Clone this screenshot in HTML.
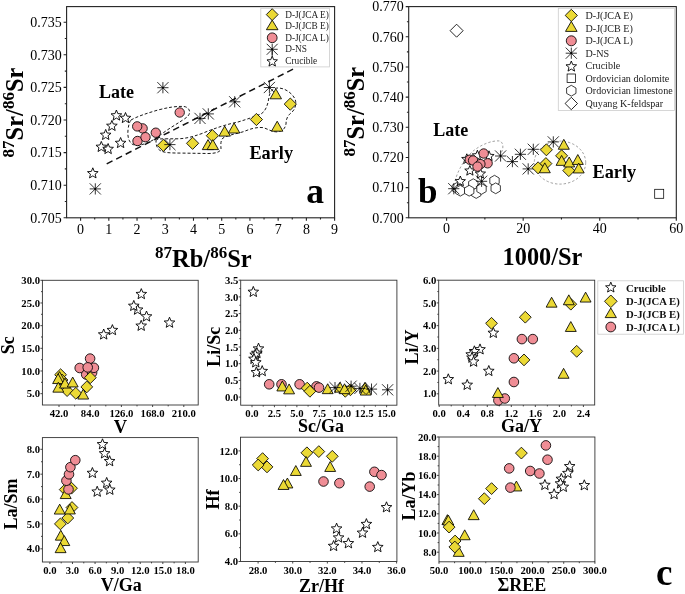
<!DOCTYPE html>
<html><head><meta charset="utf-8"><style>
html,body{margin:0;padding:0;background:#fff;}
svg{display:block;font-family:"Liberation Serif",serif;will-change:transform;}
</style></head><body>
<svg width="685" height="594" viewBox="0 0 685 594">
<rect width="685" height="594" fill="#fff"/>
<rect x="66.6" y="6.6" width="268" height="211.2" fill="none" stroke="#222" stroke-width="1.1"/>
<path d="M80.6 217.8v3M108.82 217.8v3M137.04 217.8v3M165.27 217.8v3M193.49 217.8v3M221.71 217.8v3M249.93 217.8v3M278.16 217.8v3M306.38 217.8v3M334.6 217.8v3M94.71 217.8v1.8M122.93 217.8v1.8M151.16 217.8v1.8M179.38 217.8v1.8M207.6 217.8v1.8M235.82 217.8v1.8M264.04 217.8v1.8M292.27 217.8v1.8M320.49 217.8v1.8M66.6 217.8h-3M66.6 185.2h-3M66.6 152.6h-3M66.6 120h-3M66.6 87.4h-3M66.6 54.8h-3M66.6 22.2h-3M66.6 201.5h-1.8M66.6 168.9h-1.8M66.6 136.3h-1.8M66.6 103.7h-1.8M66.6 71.1h-1.8M66.6 38.5h-1.8" stroke="#222" stroke-width="1.1" fill="none"/>
<text x="80.6" y="233.5" font-size="14" font-weight="normal" text-anchor="middle" fill="#000" >0</text>
<text x="108.82" y="233.5" font-size="14" font-weight="normal" text-anchor="middle" fill="#000" >1</text>
<text x="137.04" y="233.5" font-size="14" font-weight="normal" text-anchor="middle" fill="#000" >2</text>
<text x="165.27" y="233.5" font-size="14" font-weight="normal" text-anchor="middle" fill="#000" >3</text>
<text x="193.49" y="233.5" font-size="14" font-weight="normal" text-anchor="middle" fill="#000" >4</text>
<text x="221.71" y="233.5" font-size="14" font-weight="normal" text-anchor="middle" fill="#000" >5</text>
<text x="249.93" y="233.5" font-size="14" font-weight="normal" text-anchor="middle" fill="#000" >6</text>
<text x="278.16" y="233.5" font-size="14" font-weight="normal" text-anchor="middle" fill="#000" >7</text>
<text x="306.38" y="233.5" font-size="14" font-weight="normal" text-anchor="middle" fill="#000" >8</text>
<text x="334.6" y="233.5" font-size="14" font-weight="normal" text-anchor="middle" fill="#000" >9</text>
<text x="61.8" y="222.56" font-size="14" font-weight="normal" text-anchor="end" fill="#000" >0.705</text>
<text x="61.8" y="189.96" font-size="14" font-weight="normal" text-anchor="end" fill="#000" >0.710</text>
<text x="61.8" y="157.36" font-size="14" font-weight="normal" text-anchor="end" fill="#000" >0.715</text>
<text x="61.8" y="124.76" font-size="14" font-weight="normal" text-anchor="end" fill="#000" >0.720</text>
<text x="61.8" y="92.16" font-size="14" font-weight="normal" text-anchor="end" fill="#000" >0.725</text>
<text x="61.8" y="59.56" font-size="14" font-weight="normal" text-anchor="end" fill="#000" >0.730</text>
<text x="61.8" y="26.96" font-size="14" font-weight="normal" text-anchor="end" fill="#000" >0.735</text>
<path d="M131,120 C138,116 148,113 158,110 C168,107.5 176,106 184,106.5 C188,107 190,110 189.5,113 C189,116 186,118 182,120.5 C176,124.5 169,128.5 163,133 C158,137 153,140.5 148,142.5 C142,145 136,146.5 132,144 C128,141 127.5,135 128,130 C128.5,125 129.5,122 131,120 Z" fill="none" stroke="#000" stroke-width="0.9" stroke-dasharray="3,2"/>
<path d="M156,141 C156,139 160,138.8 166,138.8 L178,138.8 C186,138.5 192,137 202,133.5 C215,128 228,124 238,122 C248,119 256,116 261,114 C266,111 268,104 269,97 C270,91 273,88 278,88 C285,88 292,93 295,99 C297,104 295,110 291,113 C287,116 286,120 286,124 C285,129 282,131.5 277,131.9 C272,132 268,129 263,127.6 C256,127 250,129 244,131.5 C236,134 228,135 223,138 C220,141 221,146 221,149 C220,152 216,153.5 208,153.5 L182,153.1 C172,153 165,153 161,151 C157,149 156,145 156,141 Z" fill="none" stroke="#000" stroke-width="0.9" stroke-dasharray="3,2"/>
<path d="M106.7,163.9 L293.1,69.1" stroke="#111" stroke-width="1.5" stroke-dasharray="6.5,4.16" fill="none"/>
<polygon points="92.8,167.8 94.25,171.41 98.13,171.67 95.14,174.16 96.09,177.93 92.8,175.86 89.51,177.93 90.46,174.16 87.47,171.67 91.35,171.41" fill="#fff" stroke="#000" stroke-width="0.9" stroke-linejoin="miter"/>
<polygon points="101.3,141.4 102.75,145.01 106.63,145.27 103.64,147.76 104.59,151.53 101.3,149.46 98.01,151.53 98.96,147.76 95.97,145.27 99.85,145.01" fill="#fff" stroke="#000" stroke-width="0.9" stroke-linejoin="miter"/>
<polygon points="108.1,143.5 109.55,147.11 113.43,147.37 110.44,149.86 111.39,153.63 108.1,151.56 104.81,153.63 105.76,149.86 102.77,147.37 106.65,147.11" fill="#fff" stroke="#000" stroke-width="0.9" stroke-linejoin="miter"/>
<polygon points="105.7,129.4 107.15,133.01 111.03,133.27 108.04,135.76 108.99,139.53 105.7,137.46 102.41,139.53 103.36,135.76 100.37,133.27 104.25,133.01" fill="#fff" stroke="#000" stroke-width="0.9" stroke-linejoin="miter"/>
<polygon points="111.9,120.4 113.35,124.01 117.23,124.27 114.24,126.76 115.19,130.53 111.9,128.46 108.61,130.53 109.56,126.76 106.57,124.27 110.45,124.01" fill="#fff" stroke="#000" stroke-width="0.9" stroke-linejoin="miter"/>
<polygon points="116.4,110 117.85,113.61 121.73,113.87 118.74,116.36 119.69,120.13 116.4,118.06 113.11,120.13 114.06,116.36 111.07,113.87 114.95,113.61" fill="#fff" stroke="#000" stroke-width="0.9" stroke-linejoin="miter"/>
<polygon points="125.5,112.5 126.95,116.11 130.83,116.37 127.84,118.86 128.79,122.63 125.5,120.56 122.21,122.63 123.16,118.86 120.17,116.37 124.05,116.11" fill="#fff" stroke="#000" stroke-width="0.9" stroke-linejoin="miter"/>
<polygon points="120.6,137.5 122.05,141.11 125.93,141.37 122.94,143.86 123.89,147.63 120.6,145.56 117.31,147.63 118.26,143.86 115.27,141.37 119.15,141.11" fill="#fff" stroke="#000" stroke-width="0.9" stroke-linejoin="miter"/>
<circle cx="179.7" cy="112.5" r="4.7" fill="#EF8D95" stroke="#000" stroke-width="0.85"/>
<circle cx="142.6" cy="128.4" r="4.7" fill="#EF8D95" stroke="#000" stroke-width="0.85"/>
<circle cx="137.2" cy="126.4" r="4.7" fill="#EF8D95" stroke="#000" stroke-width="0.85"/>
<circle cx="155.8" cy="132.7" r="4.7" fill="#EF8D95" stroke="#000" stroke-width="0.85"/>
<circle cx="137.5" cy="141" r="4.7" fill="#EF8D95" stroke="#000" stroke-width="0.85"/>
<circle cx="145.5" cy="137.2" r="4.7" fill="#EF8D95" stroke="#000" stroke-width="0.85"/>
<polygon points="163.4,139.3 169.5,145.4 163.4,151.5 157.3,145.4" fill="#EBD935" stroke="#000" stroke-width="0.85"/>
<polygon points="192.6,137.2 198.7,143.3 192.6,149.4 186.5,143.3" fill="#EBD935" stroke="#000" stroke-width="0.85"/>
<polygon points="212.4,129.6 218.5,135.7 212.4,141.8 206.3,135.7" fill="#EBD935" stroke="#000" stroke-width="0.85"/>
<polygon points="256.4,113.4 262.5,119.5 256.4,125.6 250.3,119.5" fill="#EBD935" stroke="#000" stroke-width="0.85"/>
<polygon points="290.3,98 296.4,104.1 290.3,110.2 284.2,104.1" fill="#EBD935" stroke="#000" stroke-width="0.85"/>
<path d="M89.7 188.9H100.9M95.3 183.3V194.5M89.7 183.3L100.9 194.5M89.7 194.5L100.9 183.3" stroke="#000" stroke-width="0.8" fill="none"/>
<circle cx="95.3" cy="188.9" r="0.9" fill="#000"/>
<path d="M157.3 87.7H168.5M162.9 82.1V93.3M157.3 82.1L168.5 93.3M157.3 93.3L168.5 82.1" stroke="#000" stroke-width="0.8" fill="none"/>
<circle cx="162.9" cy="87.7" r="0.9" fill="#000"/>
<path d="M164.3 144.6H175.5M169.9 139V150.2M164.3 139L175.5 150.2M164.3 150.2L175.5 139" stroke="#000" stroke-width="0.8" fill="none"/>
<circle cx="169.9" cy="144.6" r="0.9" fill="#000"/>
<path d="M194.4 118.4H205.6M200 112.8V124M194.4 112.8L205.6 124M194.4 124L205.6 112.8" stroke="#000" stroke-width="0.8" fill="none"/>
<circle cx="200" cy="118.4" r="0.9" fill="#000"/>
<path d="M202.7 113.9H213.9M208.3 108.3V119.5M202.7 108.3L213.9 119.5M202.7 119.5L213.9 108.3" stroke="#000" stroke-width="0.8" fill="none"/>
<circle cx="208.3" cy="113.9" r="0.9" fill="#000"/>
<path d="M229.1 101.8H240.3M234.7 96.2V107.4M229.1 96.2L240.3 107.4M229.1 107.4L240.3 96.2" stroke="#000" stroke-width="0.8" fill="none"/>
<circle cx="234.7" cy="101.8" r="0.9" fill="#000"/>
<path d="M263.8 87.5H275M269.4 81.9V93.1M263.8 81.9L275 93.1M263.8 93.1L275 81.9" stroke="#000" stroke-width="0.8" fill="none"/>
<circle cx="269.4" cy="87.5" r="0.9" fill="#000"/>
<polygon points="208,139.6 213.7,149.6 202.3,149.6" fill="#EBD935" stroke="#000" stroke-width="0.85"/>
<polygon points="212.8,139.6 218.5,149.6 207.1,149.6" fill="#EBD935" stroke="#000" stroke-width="0.85"/>
<polygon points="224.7,126.1 230.4,136.1 219,136.1" fill="#EBD935" stroke="#000" stroke-width="0.85"/>
<polygon points="234.1,123 239.8,133 228.4,133" fill="#EBD935" stroke="#000" stroke-width="0.85"/>
<polygon points="275.8,88.8 281.5,98.8 270.1,98.8" fill="#EBD935" stroke="#000" stroke-width="0.85"/>
<polygon points="277.2,121.2 282.9,131.2 271.5,131.2" fill="#EBD935" stroke="#000" stroke-width="0.85"/>
<text x="98.9" y="97.9" font-size="18" font-weight="bold" text-anchor="start" fill="#000" >Late</text>
<text x="249.4" y="158.8" font-size="18.3" font-weight="bold" text-anchor="start" fill="#000" >Early</text>
<text x="306.3" y="202.8" font-size="35.5" font-weight="bold" text-anchor="start" fill="#000" >a</text>
<rect x="260.8" y="8.3" width="68.8" height="58.6" fill="#fff" stroke="#ccc" stroke-width="0.8"/>
<polygon points="272.2,8.7 278.1,14.6 272.2,20.5 266.3,14.6" fill="#EBD935" stroke="#000" stroke-width="0.85"/>
<polygon points="272.2,20.1 278,29.7 266.4,29.7" fill="#EBD935" stroke="#000" stroke-width="0.85"/>
<circle cx="272.2" cy="37.8" r="4.9" fill="#EF8D95" stroke="#000" stroke-width="0.85"/>
<path d="M266.7 49.3H277.7M272.2 43.8V54.8M266.7 43.8L277.7 54.8M266.7 54.8L277.7 43.8" stroke="#000" stroke-width="0.8" fill="none"/>
<circle cx="272.2" cy="49.3" r="0.9" fill="#000"/>
<path d="M272.2 49.3V56" stroke="#000" stroke-width="0.8"/>
<polygon points="272.2,56.1 273.62,59.64 277.43,59.9 274.5,62.35 275.43,66.05 272.2,64.02 268.97,66.05 269.9,62.35 266.97,59.9 270.78,59.64" fill="#fff" stroke="#000" stroke-width="0.9" stroke-linejoin="miter"/>
<text x="285.2" y="18.2" font-size="9.3" font-weight="normal" text-anchor="start" fill="#222" >D-J(JCA E)</text>
<text x="285.2" y="29.2" font-size="9.3" font-weight="normal" text-anchor="start" fill="#222" >D-J(JCB E)</text>
<text x="285.2" y="40.9" font-size="9.3" font-weight="normal" text-anchor="start" fill="#222" >D-J(JCA L)</text>
<text x="285.2" y="52.3" font-size="9.3" font-weight="normal" text-anchor="start" fill="#222" >D-NS</text>
<text x="285.2" y="63.6" font-size="9.3" font-weight="normal" text-anchor="start" fill="#222" >Crucible</text>
<text x="155.0" y="267.2" font-size="24.5" font-weight="bold"><tspan font-size="17" dy="-9.5">87</tspan><tspan dy="9.5">Rb/</tspan><tspan font-size="17" dy="-9.5">86</tspan><tspan dy="9.5">Sr</tspan></text>
<text transform="translate(23.2,157.4) rotate(-90)" font-size="24.5" font-weight="bold"><tspan font-size="17" dy="-9.5">87</tspan><tspan dy="9.5">Sr/</tspan><tspan font-size="17" dy="-9.5">86</tspan><tspan dy="9.5">Sr</tspan></text>
<rect x="408.7" y="6.6" width="267.6" height="211.2" fill="none" stroke="#222" stroke-width="1.1"/>
<path d="M446.6 217.8v3M523.17 217.8v3M599.73 217.8v3M676.3 217.8v3M484.88 217.8v1.8M561.45 217.8v1.8M638.02 217.8v1.8M408.7 217.8h-3M408.7 187.63h-3M408.7 157.46h-3M408.7 127.29h-3M408.7 97.11h-3M408.7 66.94h-3M408.7 36.77h-3M408.7 6.6h-3M408.7 202.71h-1.8M408.7 172.54h-1.8M408.7 142.37h-1.8M408.7 112.2h-1.8M408.7 82.03h-1.8M408.7 51.86h-1.8M408.7 21.69h-1.8" stroke="#222" stroke-width="1.1" fill="none"/>
<text x="446.6" y="233" font-size="14" font-weight="normal" text-anchor="middle" fill="#000" >0</text>
<text x="523.17" y="233" font-size="14" font-weight="normal" text-anchor="middle" fill="#000" >20</text>
<text x="599.73" y="233" font-size="14" font-weight="normal" text-anchor="middle" fill="#000" >40</text>
<text x="676.3" y="233" font-size="14" font-weight="normal" text-anchor="middle" fill="#000" >60</text>
<text x="403.8" y="222.56" font-size="14" font-weight="normal" text-anchor="end" fill="#000" >0.700</text>
<text x="403.8" y="192.39" font-size="14" font-weight="normal" text-anchor="end" fill="#000" >0.710</text>
<text x="403.8" y="162.22" font-size="14" font-weight="normal" text-anchor="end" fill="#000" >0.720</text>
<text x="403.8" y="132.05" font-size="14" font-weight="normal" text-anchor="end" fill="#000" >0.730</text>
<text x="403.8" y="101.87" font-size="14" font-weight="normal" text-anchor="end" fill="#000" >0.740</text>
<text x="403.8" y="71.7" font-size="14" font-weight="normal" text-anchor="end" fill="#000" >0.750</text>
<text x="403.8" y="41.53" font-size="14" font-weight="normal" text-anchor="end" fill="#000" >0.760</text>
<text x="403.8" y="11.36" font-size="14" font-weight="normal" text-anchor="end" fill="#000" >0.770</text>
<ellipse cx="560" cy="162.6" rx="25.7" ry="21.5" fill="none" stroke="#888" stroke-width="0.8" stroke-dasharray="2.4,2"/>
<path d="M455,181 C458,170 464,160 472,152 C480,145 492,140 500,141 C505,144 503,152 498,158" fill="none" stroke="#888" stroke-width="0.8" stroke-dasharray="2.4,2"/>
<polygon points="476.2,187.6 480.88,190.3 480.88,195.7 476.2,198.4 471.52,195.7 471.52,190.3" fill="#fff" stroke="#000" stroke-width="0.75"/>
<polygon points="473.3,178.8 477.98,181.5 477.98,186.9 473.3,189.6 468.62,186.9 468.62,181.5" fill="#fff" stroke="#000" stroke-width="0.75"/>
<polygon points="456.8,182.6 461.48,185.3 461.48,190.7 456.8,193.4 452.12,190.7 452.12,185.3" fill="#fff" stroke="#000" stroke-width="0.75"/>
<polygon points="460.3,185.3 464.98,188 464.98,193.4 460.3,196.1 455.62,193.4 455.62,188" fill="#fff" stroke="#000" stroke-width="0.75"/>
<polygon points="469.2,185.3 473.88,188 473.88,193.4 469.2,196.1 464.52,193.4 464.52,188" fill="#fff" stroke="#000" stroke-width="0.75"/>
<polygon points="481.5,183.5 486.18,186.2 486.18,191.6 481.5,194.3 476.82,191.6 476.82,186.2" fill="#fff" stroke="#000" stroke-width="0.75"/>
<polygon points="494.5,175.3 499.18,178 499.18,183.4 494.5,186.1 489.82,183.4 489.82,178" fill="#fff" stroke="#000" stroke-width="0.75"/>
<polygon points="495.7,182.9 500.38,185.6 500.38,191 495.7,193.7 491.02,191 491.02,185.6" fill="#fff" stroke="#000" stroke-width="0.75"/>
<polygon points="460.3,176 461.7,179.48 465.44,179.73 462.56,182.13 463.47,185.77 460.3,183.78 457.13,185.77 458.04,182.13 455.16,179.73 458.9,179.48" fill="#fff" stroke="#000" stroke-width="0.9" stroke-linejoin="miter"/>
<polygon points="466.8,153.8 468.2,157.28 471.94,157.53 469.06,159.93 469.97,163.57 466.8,161.58 463.63,163.57 464.54,159.93 461.66,157.53 465.4,157.28" fill="#fff" stroke="#000" stroke-width="0.9" stroke-linejoin="miter"/>
<polygon points="477.4,150.2 478.8,153.68 482.54,153.93 479.66,156.33 480.57,159.97 477.4,157.98 474.23,159.97 475.14,156.33 472.26,153.93 476,153.68" fill="#fff" stroke="#000" stroke-width="0.9" stroke-linejoin="miter"/>
<polygon points="489,150.8 490.4,154.28 494.14,154.53 491.26,156.93 492.17,160.57 489,158.58 485.83,160.57 486.74,156.93 483.86,154.53 487.6,154.28" fill="#fff" stroke="#000" stroke-width="0.9" stroke-linejoin="miter"/>
<polygon points="469.9,165.4 471.3,168.88 475.04,169.13 472.16,171.53 473.07,175.17 469.9,173.18 466.73,175.17 467.64,171.53 464.76,169.13 468.5,168.88" fill="#fff" stroke="#000" stroke-width="0.9" stroke-linejoin="miter"/>
<polygon points="480.4,168.4 481.8,171.88 485.54,172.13 482.66,174.53 483.57,178.17 480.4,176.18 477.23,178.17 478.14,174.53 475.26,172.13 479,171.88" fill="#fff" stroke="#000" stroke-width="0.9" stroke-linejoin="miter"/>
<path d="M448.2 188.7H459.4M453.8 183.1V194.3M448.2 183.1L459.4 194.3M448.2 194.3L459.4 183.1" stroke="#000" stroke-width="0.8" fill="none"/>
<circle cx="453.8" cy="188.7" r="0.9" fill="#000"/>
<path d="M476 181.3H487.2M481.6 175.7V186.9M476 175.7L487.2 186.9M476 186.9L487.2 175.7" stroke="#000" stroke-width="0.8" fill="none"/>
<circle cx="481.6" cy="181.3" r="0.9" fill="#000"/>
<path d="M495 156H506.2M500.6 150.4V161.6M495 150.4L506.2 161.6M495 161.6L506.2 150.4" stroke="#000" stroke-width="0.8" fill="none"/>
<circle cx="500.6" cy="156" r="0.9" fill="#000"/>
<path d="M506.8 161.6H518M512.4 156V167.2M506.8 156L518 167.2M506.8 167.2L518 156" stroke="#000" stroke-width="0.8" fill="none"/>
<circle cx="512.4" cy="161.6" r="0.9" fill="#000"/>
<path d="M514.8 154.3H526M520.4 148.7V159.9M514.8 148.7L526 159.9M514.8 159.9L526 148.7" stroke="#000" stroke-width="0.8" fill="none"/>
<circle cx="520.4" cy="154.3" r="0.9" fill="#000"/>
<path d="M527.7 149.3H538.9M533.3 143.7V154.9M527.7 143.7L538.9 154.9M527.7 154.9L538.9 143.7" stroke="#000" stroke-width="0.8" fill="none"/>
<circle cx="533.3" cy="149.3" r="0.9" fill="#000"/>
<path d="M547.7 141.9H558.9M553.3 136.3V147.5M547.7 136.3L558.9 147.5M547.7 147.5L558.9 136.3" stroke="#000" stroke-width="0.8" fill="none"/>
<circle cx="553.3" cy="141.9" r="0.9" fill="#000"/>
<path d="M522.6 168.9H533.8M528.2 163.3V174.5M522.6 163.3L533.8 174.5M522.6 174.5L533.8 163.3" stroke="#000" stroke-width="0.8" fill="none"/>
<circle cx="528.2" cy="168.9" r="0.9" fill="#000"/>
<circle cx="483.7" cy="153.5" r="4.7" fill="#EF8D95" stroke="#000" stroke-width="0.85"/>
<circle cx="469.8" cy="159.7" r="4.7" fill="#EF8D95" stroke="#000" stroke-width="0.85"/>
<circle cx="473.1" cy="160.5" r="4.7" fill="#EF8D95" stroke="#000" stroke-width="0.85"/>
<circle cx="487.6" cy="163.3" r="4.7" fill="#EF8D95" stroke="#000" stroke-width="0.85"/>
<circle cx="480.4" cy="164.1" r="4.7" fill="#EF8D95" stroke="#000" stroke-width="0.85"/>
<circle cx="477.5" cy="166.6" r="4.7" fill="#EF8D95" stroke="#000" stroke-width="0.85"/>
<polygon points="546.4,143.8 552.4,149.8 546.4,155.8 540.4,149.8" fill="#EBD935" stroke="#000" stroke-width="0.85"/>
<polygon points="545.9,157.6 551.9,163.6 545.9,169.6 539.9,163.6" fill="#EBD935" stroke="#000" stroke-width="0.85"/>
<polygon points="538.1,161.8 544.1,167.8 538.1,173.8 532.1,167.8" fill="#EBD935" stroke="#000" stroke-width="0.85"/>
<polygon points="561.6,149.8 567.6,155.8 561.6,161.8 555.6,155.8" fill="#EBD935" stroke="#000" stroke-width="0.85"/>
<polygon points="568.8,164.6 574.8,170.6 568.8,176.6 562.8,170.6" fill="#EBD935" stroke="#000" stroke-width="0.85"/>
<polygon points="563.8,139.35 569.3,149.25 558.3,149.25" fill="#EBD935" stroke="#000" stroke-width="0.85"/>
<polygon points="544.8,162.85 550.3,172.75 539.3,172.75" fill="#EBD935" stroke="#000" stroke-width="0.85"/>
<polygon points="561.6,155.45 567.1,165.35 556.1,165.35" fill="#EBD935" stroke="#000" stroke-width="0.85"/>
<polygon points="569.2,157.05 574.7,166.95 563.7,166.95" fill="#EBD935" stroke="#000" stroke-width="0.85"/>
<polygon points="577.8,154.55 583.3,164.45 572.3,164.45" fill="#EBD935" stroke="#000" stroke-width="0.85"/>
<polygon points="578.7,163.05 584.2,172.95 573.2,172.95" fill="#EBD935" stroke="#000" stroke-width="0.85"/>
<polygon points="456.6,24.2 463.1,30.7 456.6,37.2 450.1,30.7" fill="#fff" stroke="#000" stroke-width="0.85"/>
<rect x="654.7" y="189.3" width="9" height="9" fill="#fff" stroke="#000" stroke-width="0.75"/>
<text x="433.3" y="135.9" font-size="18" font-weight="bold" text-anchor="start" fill="#000" >Late</text>
<text x="592.5" y="177.6" font-size="18.3" font-weight="bold" text-anchor="start" fill="#000" >Early</text>
<text x="418" y="203.3" font-size="35" font-weight="bold" text-anchor="start" fill="#000" >b</text>
<rect x="558.3" y="8.3" width="116.3" height="102.1" fill="#fff" stroke="#ccc" stroke-width="0.8"/>
<polygon points="571.3,9.3 577.4,15.4 571.3,21.5 565.2,15.4" fill="#EBD935" stroke="#000" stroke-width="0.85"/>
<polygon points="571.3,21.4 577.1,31.4 565.5,31.4" fill="#EBD935" stroke="#000" stroke-width="0.85"/>
<circle cx="571.3" cy="40.8" r="5" fill="#EF8D95" stroke="#000" stroke-width="0.85"/>
<path d="M565.7 53.2H576.9M571.3 47.6V58.8M565.7 47.6L576.9 58.8M565.7 58.8L576.9 47.6" stroke="#000" stroke-width="0.8" fill="none"/>
<circle cx="571.3" cy="53.2" r="0.9" fill="#000"/>
<polygon points="571.3,61 572.75,64.61 576.63,64.87 573.64,67.36 574.59,71.13 571.3,69.06 568.01,71.13 568.96,67.36 565.97,64.87 569.85,64.61" fill="#fff" stroke="#000" stroke-width="0.9" stroke-linejoin="miter"/>
<rect x="567.1" y="74" width="8.4" height="8.4" fill="#fff" stroke="#000" stroke-width="0.75"/>
<polygon points="571.3,85.3 575.98,88 575.98,93.4 571.3,96.1 566.62,93.4 566.62,88" fill="#fff" stroke="#000" stroke-width="0.75"/>
<polygon points="571.3,97.3 577.5,103.5 571.3,109.7 565.1,103.5" fill="#fff" stroke="#000" stroke-width="0.85"/>
<text x="585.5" y="18.9" font-size="10.1" font-weight="normal" text-anchor="start" fill="#222" >D-J(JCA E)</text>
<text x="585.5" y="31.7" font-size="10.1" font-weight="normal" text-anchor="start" fill="#222" >D-J(JCB E)</text>
<text x="585.5" y="44.3" font-size="10.1" font-weight="normal" text-anchor="start" fill="#222" >D-J(JCA L)</text>
<text x="585.5" y="56.7" font-size="10.1" font-weight="normal" text-anchor="start" fill="#222" >D-NS</text>
<text x="585.5" y="69.1" font-size="10.1" font-weight="normal" text-anchor="start" fill="#222" >Crucible</text>
<text x="585.5" y="81.7" font-size="10.1" font-weight="normal" text-anchor="start" fill="#222" >Ordovician dolomite</text>
<text x="585.5" y="94.2" font-size="10.1" font-weight="normal" text-anchor="start" fill="#222" >Ordovician limestone</text>
<text x="585.5" y="107" font-size="10.1" font-weight="normal" text-anchor="start" fill="#222" >Quyang K-feldspar</text>
<text x="502.6" y="264.8" font-size="24.3" font-weight="bold">1000/Sr</text>
<text transform="translate(364.4,156.6) rotate(-90)" font-size="24.5" font-weight="bold"><tspan font-size="17" dy="-9.5">87</tspan><tspan dy="9.5">Sr/</tspan><tspan font-size="17" dy="-9.5">86</tspan><tspan dy="9.5">Sr</tspan></text>
<rect x="42.4" y="280.3" width="155.8" height="124.7" fill="none" stroke="#333" stroke-width="0.9"/>
<path d="M59 405v2M90.2 405v2M121.4 405v2M152.6 405v2M183.8 405v2M74.6 405v1.4M105.8 405v1.4M137 405v1.4M168.2 405v1.4M42.4 393.66h-2M42.4 370.99h-2M42.4 348.32h-2M42.4 325.65h-2M42.4 302.97h-2M42.4 280.3h-2M42.4 382.33h-1.4M42.4 359.65h-1.4M42.4 336.98h-1.4M42.4 314.31h-1.4M42.4 291.64h-1.4" stroke="#333" stroke-width="0.9" fill="none"/>
<text x="59" y="417" font-size="10.7" font-weight="bold" text-anchor="middle" fill="#000" >42.0</text>
<text x="90.2" y="417" font-size="10.7" font-weight="bold" text-anchor="middle" fill="#000" >84.0</text>
<text x="121.4" y="417" font-size="10.7" font-weight="bold" text-anchor="middle" fill="#000" >126.0</text>
<text x="152.6" y="417" font-size="10.7" font-weight="bold" text-anchor="middle" fill="#000" >168.0</text>
<text x="183.8" y="417" font-size="10.7" font-weight="bold" text-anchor="middle" fill="#000" >210.0</text>
<text x="40" y="397.3" font-size="10.7" font-weight="bold" text-anchor="end" fill="#000" >5.0</text>
<text x="40" y="374.63" font-size="10.7" font-weight="bold" text-anchor="end" fill="#000" >10.0</text>
<text x="40" y="351.96" font-size="10.7" font-weight="bold" text-anchor="end" fill="#000" >15.0</text>
<text x="40" y="329.28" font-size="10.7" font-weight="bold" text-anchor="end" fill="#000" >20.0</text>
<text x="40" y="306.61" font-size="10.7" font-weight="bold" text-anchor="end" fill="#000" >25.0</text>
<text x="40" y="283.94" font-size="10.7" font-weight="bold" text-anchor="end" fill="#000" >30.0</text>
<polygon points="141.3,288.6 142.75,292.21 146.63,292.47 143.64,294.96 144.59,298.73 141.3,296.66 138.01,298.73 138.96,294.96 135.97,292.47 139.85,292.21" fill="#fff" stroke="#000" stroke-width="0.9" stroke-linejoin="miter"/>
<polygon points="137.6,304.2 139.05,307.81 142.93,308.07 139.94,310.56 140.89,314.33 137.6,312.26 134.31,314.33 135.26,310.56 132.27,308.07 136.15,307.81" fill="#fff" stroke="#000" stroke-width="0.9" stroke-linejoin="miter"/>
<polygon points="133.8,300.4 135.25,304.01 139.13,304.27 136.14,306.76 137.09,310.53 133.8,308.46 130.51,310.53 131.46,306.76 128.47,304.27 132.35,304.01" fill="#fff" stroke="#000" stroke-width="0.9" stroke-linejoin="miter"/>
<polygon points="146.5,311 147.95,314.61 151.83,314.87 148.84,317.36 149.79,321.13 146.5,319.06 143.21,321.13 144.16,317.36 141.17,314.87 145.05,314.61" fill="#fff" stroke="#000" stroke-width="0.9" stroke-linejoin="miter"/>
<polygon points="141.2,320.3 142.65,323.91 146.53,324.17 143.54,326.66 144.49,330.43 141.2,328.36 137.91,330.43 138.86,326.66 135.87,324.17 139.75,323.91" fill="#fff" stroke="#000" stroke-width="0.9" stroke-linejoin="miter"/>
<polygon points="169.5,317.2 170.95,320.81 174.83,321.07 171.84,323.56 172.79,327.33 169.5,325.26 166.21,327.33 167.16,323.56 164.17,321.07 168.05,320.81" fill="#fff" stroke="#000" stroke-width="0.9" stroke-linejoin="miter"/>
<polygon points="112.4,324.6 113.85,328.21 117.73,328.47 114.74,330.96 115.69,334.73 112.4,332.66 109.11,334.73 110.06,330.96 107.07,328.47 110.95,328.21" fill="#fff" stroke="#000" stroke-width="0.9" stroke-linejoin="miter"/>
<polygon points="103.7,329 105.15,332.61 109.03,332.87 106.04,335.36 106.99,339.13 103.7,337.06 100.41,339.13 101.36,335.36 98.37,332.87 102.25,332.61" fill="#fff" stroke="#000" stroke-width="0.9" stroke-linejoin="miter"/>
<circle cx="86.2" cy="374.5" r="4.8" fill="#EF8D95" stroke="#000" stroke-width="0.85"/>
<circle cx="92.1" cy="372.7" r="4.8" fill="#EF8D95" stroke="#000" stroke-width="0.85"/>
<circle cx="90.1" cy="358.6" r="4.8" fill="#EF8D95" stroke="#000" stroke-width="0.85"/>
<circle cx="79.7" cy="368" r="4.8" fill="#EF8D95" stroke="#000" stroke-width="0.85"/>
<circle cx="93.9" cy="367.8" r="4.8" fill="#EF8D95" stroke="#000" stroke-width="0.85"/>
<circle cx="87.7" cy="367.4" r="4.8" fill="#EF8D95" stroke="#000" stroke-width="0.85"/>
<polygon points="60.6,368.8 66.5,374.7 60.6,380.6 54.7,374.7" fill="#EBD935" stroke="#000" stroke-width="0.85"/>
<polygon points="62,374.1 67.9,380 62,385.9 56.1,380" fill="#EBD935" stroke="#000" stroke-width="0.85"/>
<polygon points="67.1,384.7 73,390.6 67.1,396.5 61.2,390.6" fill="#EBD935" stroke="#000" stroke-width="0.85"/>
<polygon points="75.8,387.4 81.7,393.3 75.8,399.2 69.9,393.3" fill="#EBD935" stroke="#000" stroke-width="0.85"/>
<polygon points="86.8,381 92.7,386.9 86.8,392.8 80.9,386.9" fill="#EBD935" stroke="#000" stroke-width="0.85"/>
<polygon points="90.3,371.8 96.2,377.7 90.3,383.6 84.4,377.7" fill="#EBD935" stroke="#000" stroke-width="0.85"/>
<polygon points="59.6,371.65 65.05,381.55 54.15,381.55" fill="#EBD935" stroke="#000" stroke-width="0.85"/>
<polygon points="58.1,373.65 63.55,383.55 52.65,383.55" fill="#EBD935" stroke="#000" stroke-width="0.85"/>
<polygon points="58.3,382.25 63.75,392.15 52.85,392.15" fill="#EBD935" stroke="#000" stroke-width="0.85"/>
<polygon points="65,378.15 70.45,388.05 59.55,388.05" fill="#EBD935" stroke="#000" stroke-width="0.85"/>
<polygon points="72.7,377.05 78.15,386.95 67.25,386.95" fill="#EBD935" stroke="#000" stroke-width="0.85"/>
<polygon points="83.2,389.15 88.65,399.05 77.75,399.05" fill="#EBD935" stroke="#000" stroke-width="0.85"/>
<rect x="240.7" y="280.2" width="156.2" height="125" fill="none" stroke="#333" stroke-width="0.9"/>
<path d="M252 405.2v2M274.43 405.2v2M296.87 405.2v2M319.3 405.2v2M341.73 405.2v2M364.17 405.2v2M386.6 405.2v2M263.22 405.2v1.4M285.65 405.2v1.4M308.08 405.2v1.4M330.52 405.2v1.4M352.95 405.2v1.4M375.38 405.2v1.4M240.7 397.1h-2M240.7 380.4h-2M240.7 363.7h-2M240.7 347h-2M240.7 330.3h-2M240.7 313.6h-2M240.7 296.9h-2M240.7 280.2h-2M240.7 388.75h-1.4M240.7 372.05h-1.4M240.7 355.35h-1.4M240.7 338.65h-1.4M240.7 321.95h-1.4M240.7 305.25h-1.4M240.7 288.55h-1.4" stroke="#333" stroke-width="0.9" fill="none"/>
<text x="252" y="417" font-size="10.7" font-weight="bold" text-anchor="middle" fill="#000" >0.0</text>
<text x="274.43" y="417" font-size="10.7" font-weight="bold" text-anchor="middle" fill="#000" >2.5</text>
<text x="296.87" y="417" font-size="10.7" font-weight="bold" text-anchor="middle" fill="#000" >5.0</text>
<text x="319.3" y="417" font-size="10.7" font-weight="bold" text-anchor="middle" fill="#000" >7.5</text>
<text x="341.73" y="417" font-size="10.7" font-weight="bold" text-anchor="middle" fill="#000" >10.0</text>
<text x="364.17" y="417" font-size="10.7" font-weight="bold" text-anchor="middle" fill="#000" >12.5</text>
<text x="386.6" y="417" font-size="10.7" font-weight="bold" text-anchor="middle" fill="#000" >15.0</text>
<text x="238.3" y="400.74" font-size="10.7" font-weight="bold" text-anchor="end" fill="#000" >0.0</text>
<text x="238.3" y="384.04" font-size="10.7" font-weight="bold" text-anchor="end" fill="#000" >0.5</text>
<text x="238.3" y="367.34" font-size="10.7" font-weight="bold" text-anchor="end" fill="#000" >1.0</text>
<text x="238.3" y="350.64" font-size="10.7" font-weight="bold" text-anchor="end" fill="#000" >1.5</text>
<text x="238.3" y="333.94" font-size="10.7" font-weight="bold" text-anchor="end" fill="#000" >2.0</text>
<text x="238.3" y="317.24" font-size="10.7" font-weight="bold" text-anchor="end" fill="#000" >2.5</text>
<text x="238.3" y="300.54" font-size="10.7" font-weight="bold" text-anchor="end" fill="#000" >3.0</text>
<text x="238.3" y="283.84" font-size="10.7" font-weight="bold" text-anchor="end" fill="#000" >3.5</text>
<polygon points="253.3,286.4 254.75,290.01 258.63,290.27 255.64,292.76 256.59,296.53 253.3,294.46 250.01,296.53 250.96,292.76 247.97,290.27 251.85,290.01" fill="#fff" stroke="#000" stroke-width="0.9" stroke-linejoin="miter"/>
<polygon points="258.5,343.1 259.95,346.71 263.83,346.97 260.84,349.46 261.79,353.23 258.5,351.16 255.21,353.23 256.16,349.46 253.17,346.97 257.05,346.71" fill="#fff" stroke="#000" stroke-width="0.9" stroke-linejoin="miter"/>
<polygon points="256.9,347.5 258.35,351.11 262.23,351.37 259.24,353.86 260.19,357.63 256.9,355.56 253.61,357.63 254.56,353.86 251.57,351.37 255.45,351.11" fill="#fff" stroke="#000" stroke-width="0.9" stroke-linejoin="miter"/>
<polygon points="255.2,349.3 256.65,352.91 260.53,353.17 257.54,355.66 258.49,359.43 255.2,357.36 251.91,359.43 252.86,355.66 249.87,353.17 253.75,352.91" fill="#fff" stroke="#000" stroke-width="0.9" stroke-linejoin="miter"/>
<polygon points="254,353.4 255.45,357.01 259.33,357.27 256.34,359.76 257.29,363.53 254,361.46 250.71,363.53 251.66,359.76 248.67,357.27 252.55,357.01" fill="#fff" stroke="#000" stroke-width="0.9" stroke-linejoin="miter"/>
<polygon points="255.8,356.9 257.25,360.51 261.13,360.77 258.14,363.26 259.09,367.03 255.8,364.96 252.51,367.03 253.46,363.26 250.47,360.77 254.35,360.51" fill="#fff" stroke="#000" stroke-width="0.9" stroke-linejoin="miter"/>
<polygon points="256.4,366.8 257.85,370.41 261.73,370.67 258.74,373.16 259.69,376.93 256.4,374.86 253.11,376.93 254.06,373.16 251.07,370.67 254.95,370.41" fill="#fff" stroke="#000" stroke-width="0.9" stroke-linejoin="miter"/>
<polygon points="262.2,365.6 263.65,369.21 267.53,369.47 264.54,371.96 265.49,375.73 262.2,373.66 258.91,375.73 259.86,371.96 256.87,369.47 260.75,369.21" fill="#fff" stroke="#000" stroke-width="0.9" stroke-linejoin="miter"/>
<circle cx="269.2" cy="384.3" r="4.8" fill="#EF8D95" stroke="#000" stroke-width="0.85"/>
<circle cx="281.5" cy="384.3" r="4.8" fill="#EF8D95" stroke="#000" stroke-width="0.85"/>
<circle cx="299.6" cy="384.3" r="4.8" fill="#EF8D95" stroke="#000" stroke-width="0.85"/>
<circle cx="316.5" cy="386.4" r="4.8" fill="#EF8D95" stroke="#000" stroke-width="0.85"/>
<circle cx="319" cy="387.6" r="4.8" fill="#EF8D95" stroke="#000" stroke-width="0.85"/>
<polygon points="307.2,382.2 313.1,388.1 307.2,394 301.3,388.1" fill="#EBD935" stroke="#000" stroke-width="0.85"/>
<polygon points="309.9,385.4 315.8,391.3 309.9,397.2 304,391.3" fill="#EBD935" stroke="#000" stroke-width="0.85"/>
<polygon points="345.3,385.4 351.2,391.3 345.3,397.2 339.4,391.3" fill="#EBD935" stroke="#000" stroke-width="0.85"/>
<polygon points="350.4,383.9 356.3,389.8 350.4,395.7 344.5,389.8" fill="#EBD935" stroke="#000" stroke-width="0.85"/>
<polygon points="282.3,381.05 287.75,390.95 276.85,390.95" fill="#EBD935" stroke="#000" stroke-width="0.85"/>
<polygon points="289.1,383.95 294.55,393.85 283.65,393.85" fill="#EBD935" stroke="#000" stroke-width="0.85"/>
<polygon points="327.7,383.75 333.15,393.65 322.25,393.65" fill="#EBD935" stroke="#000" stroke-width="0.85"/>
<polygon points="340.1,382.25 345.55,392.15 334.65,392.15" fill="#EBD935" stroke="#000" stroke-width="0.85"/>
<polygon points="344.5,383.75 349.95,393.65 339.05,393.65" fill="#EBD935" stroke="#000" stroke-width="0.85"/>
<polygon points="365,382.25 370.45,392.15 359.55,392.15" fill="#EBD935" stroke="#000" stroke-width="0.85"/>
<polygon points="365.7,385.15 371.15,395.05 360.25,395.05" fill="#EBD935" stroke="#000" stroke-width="0.85"/>
<path d="M329.4 387.6H340.6M335 382V393.2M329.4 382L340.6 393.2M329.4 393.2L340.6 382" stroke="#000" stroke-width="0.8" fill="none"/>
<circle cx="335" cy="387.6" r="0.9" fill="#000"/>
<path d="M345.5 386.2H356.7M351.1 380.6V391.8M345.5 380.6L356.7 391.8M345.5 391.8L356.7 380.6" stroke="#000" stroke-width="0.8" fill="none"/>
<circle cx="351.1" cy="386.2" r="0.9" fill="#000"/>
<path d="M354.3 388.4H365.5M359.9 382.8V394M354.3 382.8L365.5 394M354.3 394L365.5 382.8" stroke="#000" stroke-width="0.8" fill="none"/>
<circle cx="359.9" cy="388.4" r="0.9" fill="#000"/>
<path d="M365.9 389.1H377.1M371.5 383.5V394.7M365.9 383.5L377.1 394.7M365.9 394.7L377.1 383.5" stroke="#000" stroke-width="0.8" fill="none"/>
<circle cx="371.5" cy="389.1" r="0.9" fill="#000"/>
<path d="M382 389.8H393.2M387.6 384.2V395.4M382 384.2L393.2 395.4M382 395.4L393.2 384.2" stroke="#000" stroke-width="0.8" fill="none"/>
<circle cx="387.6" cy="389.8" r="0.9" fill="#000"/>
<rect x="438.7" y="280.2" width="156" height="124.8" fill="none" stroke="#333" stroke-width="0.9"/>
<path d="M439.2 405v2M463.23 405v2M487.27 405v2M511.3 405v2M535.33 405v2M559.37 405v2M583.4 405v2M451.22 405v1.4M475.25 405v1.4M499.28 405v1.4M523.32 405v1.4M547.35 405v1.4M571.38 405v1.4M438.7 393.8h-2M438.7 371.08h-2M438.7 348.36h-2M438.7 325.64h-2M438.7 302.92h-2M438.7 280.2h-2M438.7 382.44h-1.4M438.7 359.72h-1.4M438.7 337h-1.4M438.7 314.28h-1.4M438.7 291.56h-1.4" stroke="#333" stroke-width="0.9" fill="none"/>
<text x="439.2" y="417" font-size="10.7" font-weight="bold" text-anchor="middle" fill="#000" >0.0</text>
<text x="463.23" y="417" font-size="10.7" font-weight="bold" text-anchor="middle" fill="#000" >0.4</text>
<text x="487.27" y="417" font-size="10.7" font-weight="bold" text-anchor="middle" fill="#000" >0.8</text>
<text x="511.3" y="417" font-size="10.7" font-weight="bold" text-anchor="middle" fill="#000" >1.2</text>
<text x="535.33" y="417" font-size="10.7" font-weight="bold" text-anchor="middle" fill="#000" >1.6</text>
<text x="559.37" y="417" font-size="10.7" font-weight="bold" text-anchor="middle" fill="#000" >2.0</text>
<text x="583.4" y="417" font-size="10.7" font-weight="bold" text-anchor="middle" fill="#000" >2.4</text>
<text x="436.3" y="397.44" font-size="10.7" font-weight="bold" text-anchor="end" fill="#000" >1.0</text>
<text x="436.3" y="374.72" font-size="10.7" font-weight="bold" text-anchor="end" fill="#000" >2.0</text>
<text x="436.3" y="352" font-size="10.7" font-weight="bold" text-anchor="end" fill="#000" >3.0</text>
<text x="436.3" y="329.28" font-size="10.7" font-weight="bold" text-anchor="end" fill="#000" >4.0</text>
<text x="436.3" y="306.56" font-size="10.7" font-weight="bold" text-anchor="end" fill="#000" >5.0</text>
<text x="436.3" y="283.84" font-size="10.7" font-weight="bold" text-anchor="end" fill="#000" >6.0</text>
<polygon points="448.3,373.8 449.75,377.41 453.63,377.67 450.64,380.16 451.59,383.93 448.3,381.86 445.01,383.93 445.96,380.16 442.97,377.67 446.85,377.41" fill="#fff" stroke="#000" stroke-width="0.9" stroke-linejoin="miter"/>
<polygon points="467.2,379.4 468.65,383.01 472.53,383.27 469.54,385.76 470.49,389.53 467.2,387.46 463.91,389.53 464.86,385.76 461.87,383.27 465.75,383.01" fill="#fff" stroke="#000" stroke-width="0.9" stroke-linejoin="miter"/>
<polygon points="488.8,365.5 490.25,369.11 494.13,369.37 491.14,371.86 492.09,375.63 488.8,373.56 485.51,375.63 486.46,371.86 483.47,369.37 487.35,369.11" fill="#fff" stroke="#000" stroke-width="0.9" stroke-linejoin="miter"/>
<polygon points="493.3,327.4 494.75,331.01 498.63,331.27 495.64,333.76 496.59,337.53 493.3,335.46 490.01,337.53 490.96,333.76 487.97,331.27 491.85,331.01" fill="#fff" stroke="#000" stroke-width="0.9" stroke-linejoin="miter"/>
<polygon points="480,343.9 481.45,347.51 485.33,347.77 482.34,350.26 483.29,354.03 480,351.96 476.71,354.03 477.66,350.26 474.67,347.77 478.55,347.51" fill="#fff" stroke="#000" stroke-width="0.9" stroke-linejoin="miter"/>
<polygon points="474.4,345.8 475.85,349.41 479.73,349.67 476.74,352.16 477.69,355.93 474.4,353.86 471.11,355.93 472.06,352.16 469.07,349.67 472.95,349.41" fill="#fff" stroke="#000" stroke-width="0.9" stroke-linejoin="miter"/>
<polygon points="471.2,349 472.65,352.61 476.53,352.87 473.54,355.36 474.49,359.13 471.2,357.06 467.91,359.13 468.86,355.36 465.87,352.87 469.75,352.61" fill="#fff" stroke="#000" stroke-width="0.9" stroke-linejoin="miter"/>
<polygon points="472,352.2 473.45,355.81 477.33,356.07 474.34,358.56 475.29,362.33 472,360.26 468.71,362.33 469.66,358.56 466.67,356.07 470.55,355.81" fill="#fff" stroke="#000" stroke-width="0.9" stroke-linejoin="miter"/>
<polygon points="473.6,356.2 475.05,359.81 478.93,360.07 475.94,362.56 476.89,366.33 473.6,364.26 470.31,366.33 471.26,362.56 468.27,360.07 472.15,359.81" fill="#fff" stroke="#000" stroke-width="0.9" stroke-linejoin="miter"/>
<polygon points="491.5,317.4 497.4,323.3 491.5,329.2 485.6,323.3" fill="#EBD935" stroke="#000" stroke-width="0.85"/>
<polygon points="525.3,311.3 531.2,317.2 525.3,323.1 519.4,317.2" fill="#EBD935" stroke="#000" stroke-width="0.85"/>
<polygon points="524,354 529.9,359.9 524,365.8 518.1,359.9" fill="#EBD935" stroke="#000" stroke-width="0.85"/>
<polygon points="570.8,298.3 576.7,304.2 570.8,310.1 564.9,304.2" fill="#EBD935" stroke="#000" stroke-width="0.85"/>
<polygon points="576.7,345.4 582.6,351.3 576.7,357.2 570.8,351.3" fill="#EBD935" stroke="#000" stroke-width="0.85"/>
<circle cx="521.9" cy="339.1" r="4.8" fill="#EF8D95" stroke="#000" stroke-width="0.85"/>
<circle cx="532.8" cy="339.1" r="4.8" fill="#EF8D95" stroke="#000" stroke-width="0.85"/>
<circle cx="513.9" cy="358.3" r="4.8" fill="#EF8D95" stroke="#000" stroke-width="0.85"/>
<circle cx="513.9" cy="382" r="4.8" fill="#EF8D95" stroke="#000" stroke-width="0.85"/>
<circle cx="498.4" cy="400.4" r="4.8" fill="#EF8D95" stroke="#000" stroke-width="0.85"/>
<circle cx="504.8" cy="398.5" r="4.8" fill="#EF8D95" stroke="#000" stroke-width="0.85"/>
<polygon points="497.9,387.55 503.35,397.45 492.45,397.45" fill="#EBD935" stroke="#000" stroke-width="0.85"/>
<polygon points="551.6,297.25 557.05,307.15 546.15,307.15" fill="#EBD935" stroke="#000" stroke-width="0.85"/>
<polygon points="568.8,294.85 574.25,304.75 563.35,304.75" fill="#EBD935" stroke="#000" stroke-width="0.85"/>
<polygon points="585.6,292.15 591.05,302.05 580.15,302.05" fill="#EBD935" stroke="#000" stroke-width="0.85"/>
<polygon points="570.8,321.55 576.25,331.45 565.35,331.45" fill="#EBD935" stroke="#000" stroke-width="0.85"/>
<polygon points="563.6,368.35 569.05,378.25 558.15,378.25" fill="#EBD935" stroke="#000" stroke-width="0.85"/>
<rect x="597.8" y="280.8" width="85.8" height="53.4" fill="#fff" stroke="#ccc" stroke-width="0.8"/>
<polygon points="610.8,282.1 612.22,285.64 616.03,285.9 613.1,288.35 614.03,292.05 610.8,290.02 607.57,292.05 608.5,288.35 605.57,285.9 609.38,285.64" fill="#fff" stroke="#000" stroke-width="0.9" stroke-linejoin="miter"/>
<polygon points="610.8,295 617.1,301.3 610.8,307.6 604.5,301.3" fill="#EBD935" stroke="#000" stroke-width="0.85"/>
<polygon points="610.8,308 616.4,317.6 605.2,317.6" fill="#EBD935" stroke="#000" stroke-width="0.85"/>
<circle cx="610.8" cy="327" r="4.9" fill="#EF8D95" stroke="#000" stroke-width="0.85"/>
<text x="626" y="292.2" font-size="10.7" font-weight="bold" text-anchor="start" fill="#111" >Crucible</text>
<text x="626" y="305.4" font-size="10.7" font-weight="bold" text-anchor="start" fill="#111" >D-J(JCA E)</text>
<text x="626" y="317.8" font-size="10.7" font-weight="bold" text-anchor="start" fill="#111" >D-J(JCB E)</text>
<text x="626" y="331" font-size="10.7" font-weight="bold" text-anchor="start" fill="#111" >D-J(JCA L)</text>
<rect x="42.4" y="437.6" width="155.8" height="124.4" fill="none" stroke="#333" stroke-width="0.9"/>
<path d="M49.9 562v2M72.48 562v2M95.07 562v2M117.65 562v2M140.23 562v2M162.82 562v2M185.4 562v2M61.19 562v1.4M83.78 562v1.4M106.36 562v1.4M128.94 562v1.4M151.53 562v1.4M174.11 562v1.4M42.4 548.8h-2M42.4 523.92h-2M42.4 499.05h-2M42.4 474.18h-2M42.4 449.3h-2M42.4 536.36h-1.4M42.4 511.49h-1.4M42.4 486.61h-1.4M42.4 461.74h-1.4" stroke="#333" stroke-width="0.9" fill="none"/>
<text x="49.9" y="574" font-size="10.7" font-weight="bold" text-anchor="middle" fill="#000" >0.0</text>
<text x="72.48" y="574" font-size="10.7" font-weight="bold" text-anchor="middle" fill="#000" >3.0</text>
<text x="95.07" y="574" font-size="10.7" font-weight="bold" text-anchor="middle" fill="#000" >6.0</text>
<text x="117.65" y="574" font-size="10.7" font-weight="bold" text-anchor="middle" fill="#000" >9.0</text>
<text x="140.23" y="574" font-size="10.7" font-weight="bold" text-anchor="middle" fill="#000" >12.0</text>
<text x="162.82" y="574" font-size="10.7" font-weight="bold" text-anchor="middle" fill="#000" >15.0</text>
<text x="185.4" y="574" font-size="10.7" font-weight="bold" text-anchor="middle" fill="#000" >18.0</text>
<text x="40" y="552.44" font-size="10.7" font-weight="bold" text-anchor="end" fill="#000" >4.0</text>
<text x="40" y="527.56" font-size="10.7" font-weight="bold" text-anchor="end" fill="#000" >5.0</text>
<text x="40" y="502.69" font-size="10.7" font-weight="bold" text-anchor="end" fill="#000" >6.0</text>
<text x="40" y="477.81" font-size="10.7" font-weight="bold" text-anchor="end" fill="#000" >7.0</text>
<text x="40" y="452.94" font-size="10.7" font-weight="bold" text-anchor="end" fill="#000" >8.0</text>
<polygon points="102.5,438.8 103.95,442.41 107.83,442.67 104.84,445.16 105.79,448.93 102.5,446.86 99.21,448.93 100.16,445.16 97.17,442.67 101.05,442.41" fill="#fff" stroke="#000" stroke-width="0.9" stroke-linejoin="miter"/>
<polygon points="104.6,447.9 106.05,451.51 109.93,451.77 106.94,454.26 107.89,458.03 104.6,455.96 101.31,458.03 102.26,454.26 99.27,451.77 103.15,451.51" fill="#fff" stroke="#000" stroke-width="0.9" stroke-linejoin="miter"/>
<polygon points="109.6,455.7 111.05,459.31 114.93,459.57 111.94,462.06 112.89,465.83 109.6,463.76 106.31,465.83 107.26,462.06 104.27,459.57 108.15,459.31" fill="#fff" stroke="#000" stroke-width="0.9" stroke-linejoin="miter"/>
<polygon points="92.4,467.5 93.85,471.11 97.73,471.37 94.74,473.86 95.69,477.63 92.4,475.56 89.11,477.63 90.06,473.86 87.07,471.37 90.95,471.11" fill="#fff" stroke="#000" stroke-width="0.9" stroke-linejoin="miter"/>
<polygon points="106.7,477.4 108.15,481.01 112.03,481.27 109.04,483.76 109.99,487.53 106.7,485.46 103.41,487.53 104.36,483.76 101.37,481.27 105.25,481.01" fill="#fff" stroke="#000" stroke-width="0.9" stroke-linejoin="miter"/>
<polygon points="109.8,484.3 111.25,487.91 115.13,488.17 112.14,490.66 113.09,494.43 109.8,492.36 106.51,494.43 107.46,490.66 104.47,488.17 108.35,487.91" fill="#fff" stroke="#000" stroke-width="0.9" stroke-linejoin="miter"/>
<polygon points="97.2,486.2 98.65,489.81 102.53,490.07 99.54,492.56 100.49,496.33 97.2,494.26 93.91,496.33 94.86,492.56 91.87,490.07 95.75,489.81" fill="#fff" stroke="#000" stroke-width="0.9" stroke-linejoin="miter"/>
<polygon points="65.2,483.7 71.1,489.6 65.2,495.5 59.3,489.6" fill="#EBD935" stroke="#000" stroke-width="0.85"/>
<polygon points="71.5,482.3 77.4,488.2 71.5,494.1 65.6,488.2" fill="#EBD935" stroke="#000" stroke-width="0.85"/>
<polygon points="72,501.6 77.9,507.5 72,513.4 66.1,507.5" fill="#EBD935" stroke="#000" stroke-width="0.85"/>
<polygon points="67.8,512.1 73.7,518 67.8,523.9 61.9,518" fill="#EBD935" stroke="#000" stroke-width="0.85"/>
<polygon points="60.4,518 66.3,523.9 60.4,529.8 54.5,523.9" fill="#EBD935" stroke="#000" stroke-width="0.85"/>
<polygon points="65.7,488.65 71.15,498.55 60.25,498.55" fill="#EBD935" stroke="#000" stroke-width="0.85"/>
<polygon points="59.7,504.15 65.15,514.05 54.25,514.05" fill="#EBD935" stroke="#000" stroke-width="0.85"/>
<polygon points="69.9,504.05 75.35,513.95 64.45,513.95" fill="#EBD935" stroke="#000" stroke-width="0.85"/>
<polygon points="60.8,530.25 66.25,540.15 55.35,540.15" fill="#EBD935" stroke="#000" stroke-width="0.85"/>
<polygon points="64.3,535.65 69.75,545.55 58.85,545.55" fill="#EBD935" stroke="#000" stroke-width="0.85"/>
<polygon points="60.6,542.75 66.05,552.65 55.15,552.65" fill="#EBD935" stroke="#000" stroke-width="0.85"/>
<circle cx="68.5" cy="489.4" r="4.8" fill="#EF8D95" stroke="#000" stroke-width="0.85"/>
<circle cx="66.4" cy="480.7" r="4.8" fill="#EF8D95" stroke="#000" stroke-width="0.85"/>
<circle cx="69" cy="474.3" r="4.8" fill="#EF8D95" stroke="#000" stroke-width="0.85"/>
<circle cx="70.4" cy="467.2" r="4.8" fill="#EF8D95" stroke="#000" stroke-width="0.85"/>
<circle cx="75.3" cy="460.2" r="4.8" fill="#EF8D95" stroke="#000" stroke-width="0.85"/>
<rect x="240.5" y="437.2" width="156.4" height="124.3" fill="none" stroke="#333" stroke-width="0.9"/>
<path d="M258.1 561.5v2M292.73 561.5v2M327.35 561.5v2M361.98 561.5v2M396.6 561.5v2M275.41 561.5v1.4M310.04 561.5v1.4M344.66 561.5v1.4M379.29 561.5v1.4M240.5 561.5h-2M240.5 533.85h-2M240.5 506.2h-2M240.5 478.55h-2M240.5 450.9h-2M240.5 547.67h-1.4M240.5 520.02h-1.4M240.5 492.38h-1.4M240.5 464.72h-1.4" stroke="#333" stroke-width="0.9" fill="none"/>
<text x="258.1" y="574" font-size="10.7" font-weight="bold" text-anchor="middle" fill="#000" >28.0</text>
<text x="292.73" y="574" font-size="10.7" font-weight="bold" text-anchor="middle" fill="#000" >30.0</text>
<text x="327.35" y="574" font-size="10.7" font-weight="bold" text-anchor="middle" fill="#000" >32.0</text>
<text x="361.98" y="574" font-size="10.7" font-weight="bold" text-anchor="middle" fill="#000" >34.0</text>
<text x="396.6" y="574" font-size="10.7" font-weight="bold" text-anchor="middle" fill="#000" >36.0</text>
<text x="238.1" y="565.14" font-size="10.7" font-weight="bold" text-anchor="end" fill="#000" >4.0</text>
<text x="238.1" y="537.49" font-size="10.7" font-weight="bold" text-anchor="end" fill="#000" >6.0</text>
<text x="238.1" y="509.84" font-size="10.7" font-weight="bold" text-anchor="end" fill="#000" >8.0</text>
<text x="238.1" y="482.19" font-size="10.7" font-weight="bold" text-anchor="end" fill="#000" >10.0</text>
<text x="238.1" y="454.54" font-size="10.7" font-weight="bold" text-anchor="end" fill="#000" >12.0</text>
<polygon points="262.6,452.7 268.5,458.6 262.6,464.5 256.7,458.6" fill="#EBD935" stroke="#000" stroke-width="0.85"/>
<polygon points="267,461 272.9,466.9 267,472.8 261.1,466.9" fill="#EBD935" stroke="#000" stroke-width="0.85"/>
<polygon points="258.2,459.1 264.1,465 258.2,470.9 252.3,465" fill="#EBD935" stroke="#000" stroke-width="0.85"/>
<polygon points="306.9,446.9 312.8,452.8 306.9,458.7 301,452.8" fill="#EBD935" stroke="#000" stroke-width="0.85"/>
<polygon points="318.8,445.7 324.7,451.6 318.8,457.5 312.9,451.6" fill="#EBD935" stroke="#000" stroke-width="0.85"/>
<polygon points="332.3,450.4 338.2,456.3 332.3,462.2 326.4,456.3" fill="#EBD935" stroke="#000" stroke-width="0.85"/>
<polygon points="306,456.45 311.45,466.35 300.55,466.35" fill="#EBD935" stroke="#000" stroke-width="0.85"/>
<polygon points="330.2,461.55 335.65,471.45 324.75,471.45" fill="#EBD935" stroke="#000" stroke-width="0.85"/>
<polygon points="295.8,465.55 301.25,475.45 290.35,475.45" fill="#EBD935" stroke="#000" stroke-width="0.85"/>
<polygon points="287.4,478.05 292.85,487.95 281.95,487.95" fill="#EBD935" stroke="#000" stroke-width="0.85"/>
<polygon points="283.5,479.55 288.95,489.45 278.05,489.45" fill="#EBD935" stroke="#000" stroke-width="0.85"/>
<circle cx="323.5" cy="481.5" r="4.8" fill="#EF8D95" stroke="#000" stroke-width="0.85"/>
<circle cx="339.4" cy="483.2" r="4.8" fill="#EF8D95" stroke="#000" stroke-width="0.85"/>
<circle cx="374.4" cy="471.8" r="4.8" fill="#EF8D95" stroke="#000" stroke-width="0.85"/>
<circle cx="381.5" cy="475.1" r="4.8" fill="#EF8D95" stroke="#000" stroke-width="0.85"/>
<circle cx="369.7" cy="486.6" r="4.8" fill="#EF8D95" stroke="#000" stroke-width="0.85"/>
<polygon points="386.5,501.8 387.95,505.41 391.83,505.67 388.84,508.16 389.79,511.93 386.5,509.86 383.21,511.93 384.16,508.16 381.17,505.67 385.05,505.41" fill="#fff" stroke="#000" stroke-width="0.9" stroke-linejoin="miter"/>
<polygon points="366.4,518.6 367.85,522.21 371.73,522.47 368.74,524.96 369.69,528.73 366.4,526.66 363.11,528.73 364.06,524.96 361.07,522.47 364.95,522.21" fill="#fff" stroke="#000" stroke-width="0.9" stroke-linejoin="miter"/>
<polygon points="362.5,527.3 363.95,530.91 367.83,531.17 364.84,533.66 365.79,537.43 362.5,535.36 359.21,537.43 360.16,533.66 357.17,531.17 361.05,530.91" fill="#fff" stroke="#000" stroke-width="0.9" stroke-linejoin="miter"/>
<polygon points="336.6,523.1 338.05,526.71 341.93,526.97 338.94,529.46 339.89,533.23 336.6,531.16 333.31,533.23 334.26,529.46 331.27,526.97 335.15,526.71" fill="#fff" stroke="#000" stroke-width="0.9" stroke-linejoin="miter"/>
<polygon points="338.6,532.1 340.05,535.71 343.93,535.97 340.94,538.46 341.89,542.23 338.6,540.16 335.31,542.23 336.26,538.46 333.27,535.97 337.15,535.71" fill="#fff" stroke="#000" stroke-width="0.9" stroke-linejoin="miter"/>
<polygon points="333.6,540.5 335.05,544.11 338.93,544.37 335.94,546.86 336.89,550.63 333.6,548.56 330.31,550.63 331.26,546.86 328.27,544.37 332.15,544.11" fill="#fff" stroke="#000" stroke-width="0.9" stroke-linejoin="miter"/>
<polygon points="348.4,537.8 349.85,541.41 353.73,541.67 350.74,544.16 351.69,547.93 348.4,545.86 345.11,547.93 346.06,544.16 343.07,541.67 346.95,541.41" fill="#fff" stroke="#000" stroke-width="0.9" stroke-linejoin="miter"/>
<polygon points="377.8,541.6 379.25,545.21 383.13,545.47 380.14,547.96 381.09,551.73 377.8,549.66 374.51,551.73 375.46,547.96 372.47,545.47 376.35,545.21" fill="#fff" stroke="#000" stroke-width="0.9" stroke-linejoin="miter"/>
<rect x="439" y="437" width="155.9" height="124.8" fill="none" stroke="#333" stroke-width="0.9"/>
<path d="M439 561.8v2M470.18 561.8v2M501.36 561.8v2M532.54 561.8v2M563.72 561.8v2M594.9 561.8v2M454.59 561.8v1.4M485.77 561.8v1.4M516.95 561.8v1.4M548.13 561.8v1.4M579.31 561.8v1.4M439 552.2h-2M439 533h-2M439 513.8h-2M439 494.6h-2M439 475.4h-2M439 456.2h-2M439 437h-2M439 542.6h-1.4M439 523.4h-1.4M439 504.2h-1.4M439 485h-1.4M439 465.8h-1.4M439 446.6h-1.4" stroke="#333" stroke-width="0.9" fill="none"/>
<text x="439" y="574" font-size="10.7" font-weight="bold" text-anchor="middle" fill="#000" >50.0</text>
<text x="470.18" y="574" font-size="10.7" font-weight="bold" text-anchor="middle" fill="#000" >100.0</text>
<text x="501.36" y="574" font-size="10.7" font-weight="bold" text-anchor="middle" fill="#000" >150.0</text>
<text x="532.54" y="574" font-size="10.7" font-weight="bold" text-anchor="middle" fill="#000" >200.0</text>
<text x="563.72" y="574" font-size="10.7" font-weight="bold" text-anchor="middle" fill="#000" >250.0</text>
<text x="594.9" y="574" font-size="10.7" font-weight="bold" text-anchor="middle" fill="#000" >300.0</text>
<text x="436.6" y="555.84" font-size="10.7" font-weight="bold" text-anchor="end" fill="#000" >8.0</text>
<text x="436.6" y="536.64" font-size="10.7" font-weight="bold" text-anchor="end" fill="#000" >10.0</text>
<text x="436.6" y="517.44" font-size="10.7" font-weight="bold" text-anchor="end" fill="#000" >12.0</text>
<text x="436.6" y="498.24" font-size="10.7" font-weight="bold" text-anchor="end" fill="#000" >14.0</text>
<text x="436.6" y="479.04" font-size="10.7" font-weight="bold" text-anchor="end" fill="#000" >16.0</text>
<text x="436.6" y="459.84" font-size="10.7" font-weight="bold" text-anchor="end" fill="#000" >18.0</text>
<text x="436.6" y="440.64" font-size="10.7" font-weight="bold" text-anchor="end" fill="#000" >20.0</text>
<polygon points="473.7,509.75 479.15,519.65 468.25,519.65" fill="#EBD935" stroke="#000" stroke-width="0.85"/>
<polygon points="447.4,514.65 452.85,524.55 441.95,524.55" fill="#EBD935" stroke="#000" stroke-width="0.85"/>
<polygon points="448.4,515.15 453.85,525.05 442.95,525.05" fill="#EBD935" stroke="#000" stroke-width="0.85"/>
<polygon points="464.7,529.85 470.15,539.75 459.25,539.75" fill="#EBD935" stroke="#000" stroke-width="0.85"/>
<polygon points="458.7,546.45 464.15,556.35 453.25,556.35" fill="#EBD935" stroke="#000" stroke-width="0.85"/>
<polygon points="516.4,481.05 521.85,490.95 510.95,490.95" fill="#EBD935" stroke="#000" stroke-width="0.85"/>
<polygon points="449.1,521.2 455,527.1 449.1,533 443.2,527.1" fill="#EBD935" stroke="#000" stroke-width="0.85"/>
<polygon points="455.1,535.1 461,541 455.1,546.9 449.2,541" fill="#EBD935" stroke="#000" stroke-width="0.85"/>
<polygon points="454.8,541.1 460.7,547 454.8,552.9 448.9,547" fill="#EBD935" stroke="#000" stroke-width="0.85"/>
<polygon points="484.3,492.8 490.2,498.7 484.3,504.6 478.4,498.7" fill="#EBD935" stroke="#000" stroke-width="0.85"/>
<polygon points="491.6,482.7 497.5,488.6 491.6,494.5 485.7,488.6" fill="#EBD935" stroke="#000" stroke-width="0.85"/>
<polygon points="521.4,447.2 527.3,453.1 521.4,459 515.5,453.1" fill="#EBD935" stroke="#000" stroke-width="0.85"/>
<circle cx="545.9" cy="445.4" r="4.8" fill="#EF8D95" stroke="#000" stroke-width="0.85"/>
<circle cx="547.5" cy="459.7" r="4.8" fill="#EF8D95" stroke="#000" stroke-width="0.85"/>
<circle cx="509.2" cy="468.4" r="4.8" fill="#EF8D95" stroke="#000" stroke-width="0.85"/>
<circle cx="530.2" cy="471" r="4.8" fill="#EF8D95" stroke="#000" stroke-width="0.85"/>
<circle cx="539.4" cy="473.5" r="4.8" fill="#EF8D95" stroke="#000" stroke-width="0.85"/>
<circle cx="510.4" cy="487.6" r="4.8" fill="#EF8D95" stroke="#000" stroke-width="0.85"/>
<polygon points="569.7,460.8 571.15,464.41 575.03,464.67 572.04,467.16 572.99,470.93 569.7,468.86 566.41,470.93 567.36,467.16 564.37,464.67 568.25,464.41" fill="#fff" stroke="#000" stroke-width="0.9" stroke-linejoin="miter"/>
<polygon points="567.9,467.6 569.35,471.21 573.23,471.47 570.24,473.96 571.19,477.73 567.9,475.66 564.61,477.73 565.56,473.96 562.57,471.47 566.45,471.21" fill="#fff" stroke="#000" stroke-width="0.9" stroke-linejoin="miter"/>
<polygon points="561.3,473.4 562.75,477.01 566.63,477.27 563.64,479.76 564.59,483.53 561.3,481.46 558.01,483.53 558.96,479.76 555.97,477.27 559.85,477.01" fill="#fff" stroke="#000" stroke-width="0.9" stroke-linejoin="miter"/>
<polygon points="560.5,478 561.95,481.61 565.83,481.87 562.84,484.36 563.79,488.13 560.5,486.06 557.21,488.13 558.16,484.36 555.17,481.87 559.05,481.61" fill="#fff" stroke="#000" stroke-width="0.9" stroke-linejoin="miter"/>
<polygon points="563.3,481.4 564.75,485.01 568.63,485.27 565.64,487.76 566.59,491.53 563.3,489.46 560.01,491.53 560.96,487.76 557.97,485.27 561.85,485.01" fill="#fff" stroke="#000" stroke-width="0.9" stroke-linejoin="miter"/>
<polygon points="544.9,479.5 546.35,483.11 550.23,483.37 547.24,485.86 548.19,489.63 544.9,487.56 541.61,489.63 542.56,485.86 539.57,483.37 543.45,483.11" fill="#fff" stroke="#000" stroke-width="0.9" stroke-linejoin="miter"/>
<polygon points="554.1,488.7 555.55,492.31 559.43,492.57 556.44,495.06 557.39,498.83 554.1,496.76 550.81,498.83 551.76,495.06 548.77,492.57 552.65,492.31" fill="#fff" stroke="#000" stroke-width="0.9" stroke-linejoin="miter"/>
<polygon points="584.3,479.8 585.75,483.41 589.63,483.67 586.64,486.16 587.59,489.93 584.3,487.86 581.01,489.93 581.96,486.16 578.97,483.67 582.85,483.41" fill="#fff" stroke="#000" stroke-width="0.9" stroke-linejoin="miter"/>
<text x="120.5" y="433.3" font-size="18.5" font-weight="bold" text-anchor="middle" fill="#000" >V</text>
<text x="298" y="431.6" font-size="18" font-weight="bold" text-anchor="start" fill="#000" >Sc/Ga</text>
<text x="501" y="431.6" font-size="18" font-weight="bold" text-anchor="start" fill="#000" >Ga/Y</text>
<text x="100.7" y="591.3" font-size="18" font-weight="bold" text-anchor="start" fill="#000" >V/Ga</text>
<text x="299" y="591.5" font-size="18" font-weight="bold" text-anchor="start" fill="#000" >Zr/Hf</text>
<text x="497.4" y="591" font-size="18" font-weight="bold" text-anchor="start" fill="#000" >&#931;REE</text>
<text transform="translate(13.8,345.3) rotate(-90)" font-size="18" font-weight="bold" text-anchor="middle">Sc</text>
<text transform="translate(219.8,346.8) rotate(-90)" font-size="18" font-weight="bold" text-anchor="middle">Li/Sc</text>
<text transform="translate(417.8,347.1) rotate(-90)" font-size="18" font-weight="bold" text-anchor="middle">Li/Y</text>
<text transform="translate(17,504.1) rotate(-90)" font-size="18" font-weight="bold" text-anchor="middle">La/Sm</text>
<text transform="translate(218.6,499.4) rotate(-90)" font-size="18" font-weight="bold" text-anchor="middle">Hf</text>
<text transform="translate(415.2,496.1) rotate(-90)" font-size="18" font-weight="bold" text-anchor="middle">La/Yb</text>
<text x="656" y="584.7" font-size="37" font-weight="bold" text-anchor="start" fill="#000" >c</text>
</svg></body></html>
